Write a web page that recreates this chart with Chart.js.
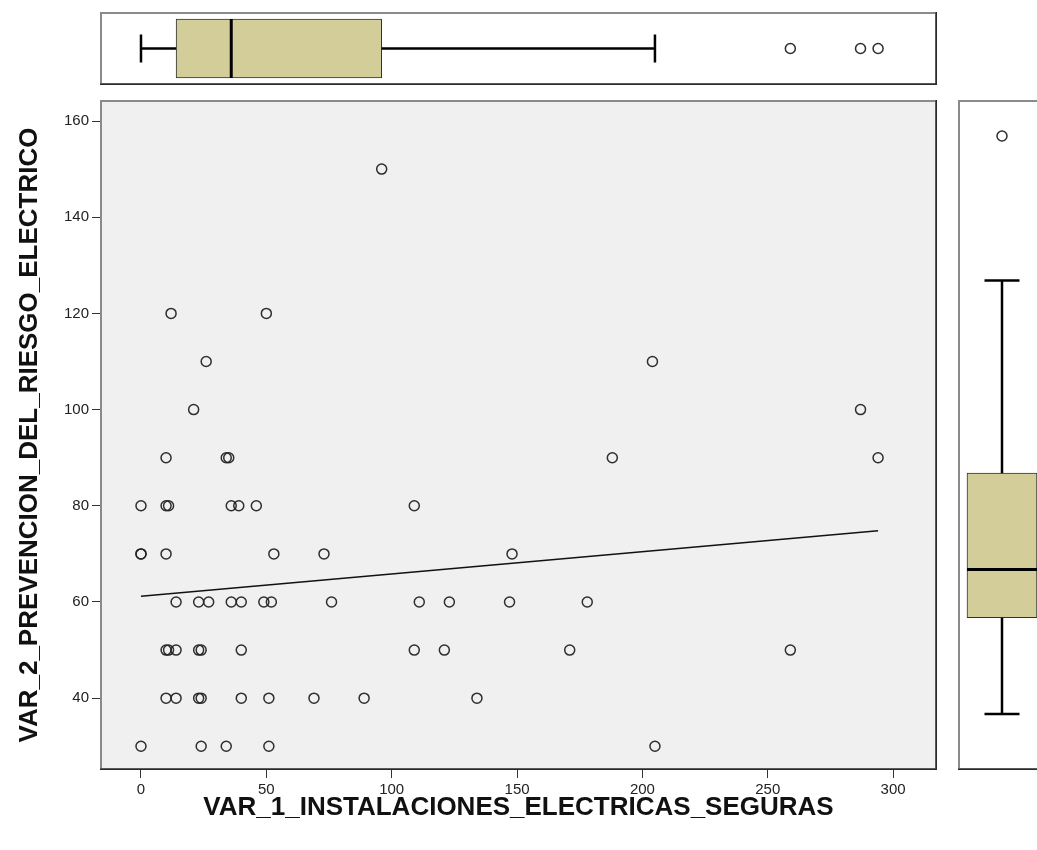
<!DOCTYPE html>
<html>
<head>
<meta charset="utf-8">
<script src="https://cdn.jsdelivr.net/npm/chart.js@4/dist/chart.umd.min.js"></script>
<style>
  html, body { margin: 0; padding: 0; background: #ffffff; width: 1037px; height: 850px; overflow: hidden; }
  canvas { position: absolute; display: block; }
</style>
</head>
<body>
<canvas id="main" width="1037" height="850" style="left:0;top:0"></canvas>
<canvas id="topBox" width="837" height="73" style="left:100px;top:12px"></canvas>
<canvas id="sideBox" width="88" height="670" style="left:958px;top:100px"></canvas>
<script>
// Paired observations: VAR_1 (x) and VAR_2 (y), one entry per case
const instalaciones = [
  96,
  12, 50,
  26, 204,
  21, 287,
  10, 34, 35, 188, 294,
  0, 10, 11, 36, 39, 46, 109,
  0, 0, 10, 53, 73, 148,
  14, 23, 27, 36, 40, 49, 52, 76, 111, 123, 147, 178,
  10, 11, 14, 23, 24, 40, 109, 121, 171, 259,
  10, 14, 23, 24, 40, 51, 69, 89, 134,
  0, 24, 34, 51, 205
];
const prevencion = [
  150,
  120, 120,
  110, 110,
  100, 100,
  90, 90, 90, 90, 90,
  80, 80, 80, 80, 80, 80, 80,
  70, 70, 70, 70, 70, 70,
  60, 60, 60, 60, 60, 60, 60, 60, 60, 60, 60, 60,
  50, 50, 50, 50, 50, 50, 50, 50, 50, 50,
  40, 40, 40, 40, 40, 40, 40, 40, 40,
  30, 30, 30, 30, 30
];

// Linear fit of VAR_2 on VAR_1
const fitIntercept = 61.2;
const fitSlope = 0.0463;

// Box plot summaries: [lower whisker, Q1, median, Q3, upper whisker]
const var1Box = [0, 14, 36, 96, 205];
const var1Outliers = [259, 287, 294];
const var2Box = [30, 50, 60, 80, 120];
const var2Outliers = [150];

// Axis ticks
const xTicks = [0, 50, 100, 150, 200, 250, 300];
const yTicks = [40, 60, 80, 100, 120, 140, 160];

// Visible ranges
const xRange = [-16.35, 317.5];
const yRange = [25.07, 164.37];
const sideRange = [18.37, 157.47];

const FONT = '"Liberation Sans", Arial, sans-serif';
const BOX_FILL = '#D3CE99';
const MARK = 'rgba(35,35,35,0.95)';

// Panel background and frame
const framePlugin = {
  id: 'frame',
  beforeDraw(chart, args, opts) {
    const {ctx, chartArea: a} = chart;
    ctx.save();
    ctx.fillStyle = opts.fill;
    ctx.fillRect(a.left, a.top, a.right - a.left, a.bottom - a.top);
    ctx.restore();
  },
  afterDraw(chart) {
    const {ctx, chartArea: a} = chart;
    ctx.save();
    ctx.strokeStyle = '#8a8a8a';
    ctx.lineWidth = 2;
    ctx.strokeRect(a.left + 1, a.top + 1, a.right - a.left - 2, a.bottom - a.top - 2);
    ctx.strokeStyle = '#2a2a2a';
    ctx.lineWidth = 1.5;
    ctx.beginPath();
    ctx.moveTo(a.right - 0.75, a.top);
    ctx.lineTo(a.right - 0.75, a.bottom - 0.75);
    ctx.lineTo(a.left, a.bottom - 0.75);
    ctx.stroke();
    ctx.restore();
  }
};

const points = instalaciones.map((x, i) => ({x, y: prevencion[i]}));
const xMin = Math.min(...instalaciones);
const xMax = Math.max(...instalaciones);
const fitLine = [xMin, xMax].map(x => ({x, y: fitIntercept + fitSlope * x}));

const fixedTicks = (values) => (scale) => { scale.ticks = values.map(v => ({value: v})); };

new Chart(document.getElementById('main'), {
  type: 'scatter',
  data: {
    datasets: [
      {
        data: points,
        pointStyle: 'circle',
        pointRadius: 5,
        pointHoverRadius: 5,
        pointBorderWidth: 1.5,
        pointBorderColor: MARK,
        pointBackgroundColor: 'rgba(0,0,0,0)',
        order: 1
      },
      {
        type: 'line',
        data: fitLine,
        borderColor: '#111111',
        borderWidth: 1.6,
        pointRadius: 0,
        fill: false,
        order: 2
      }
    ]
  },
  options: {
    responsive: false,
    animation: false,
    events: [],
    layout: {autoPadding: false, padding: {top: 100, right: 100, left: 0, bottom: 0}},
    plugins: {
      legend: {display: false},
      tooltip: {enabled: false},
      frame: {fill: '#F0F0F0'}
    },
    scales: {
      x: {
        type: 'linear',
        min: xRange[0],
        max: xRange[1],
        afterBuildTicks: fixedTicks(xTicks),
        afterFit: (s) => { s.height = 80; },
        border: {display: false},
        grid: {drawOnChartArea: false, drawTicks: true, tickLength: 8, tickColor: '#333333', tickWidth: 1},
        ticks: {color: '#222222', font: {family: FONT, size: 15}, padding: 3, maxRotation: 0},
        title: {
          display: true,
          text: 'VAR_1_INSTALACIONES_ELECTRICAS_SEGURAS',
          color: '#111111',
          font: {family: FONT, size: 26, weight: 'bold'},
          padding: {top: 0, bottom: 26.4}
        }
      },
      y: {
        type: 'linear',
        min: yRange[0],
        max: yRange[1],
        afterBuildTicks: fixedTicks(yTicks),
        afterFit: (s) => { s.width = 100; },
        border: {display: false},
        grid: {drawOnChartArea: false, drawTicks: true, tickLength: 8, tickColor: '#333333', tickWidth: 1},
        ticks: {color: '#222222', font: {family: FONT, size: 15}, padding: 3},
        title: {
          display: true,
          text: 'VAR_2_PREVENCION_DEL_RIESGO_ELECTRICO',
          color: '#111111',
          font: {family: FONT, size: 26, weight: 'bold'},
          padding: {top: 14.4, bottom: 0}
        }
      }
    }
  },
  plugins: [framePlugin]
});

// Horizontal box plot of VAR_1
const v1 = 'VAR_1';
new Chart(document.getElementById('topBox'), {
  type: 'bar',
  data: {
    labels: [v1],
    datasets: [
      {
        data: [[var1Box[1], var1Box[3]]],
        backgroundColor: BOX_FILL,
        borderColor: '#333333',
        borderWidth: 1,
        borderSkipped: false,
        barThickness: 59,
        order: 4
      },
      {
        type: 'line',
        data: [{x: var1Box[0], y: v1}, {x: var1Box[1], y: v1}],
        borderColor: '#000000', borderWidth: 2.5, pointRadius: 0, order: 3
      },
      {
        type: 'line',
        data: [{x: var1Box[3], y: v1}, {x: var1Box[4], y: v1}],
        borderColor: '#000000', borderWidth: 2.5, pointRadius: 0, order: 3
      },
      {
        type: 'line',
        showLine: false,
        data: [{x: var1Box[0], y: v1}, {x: var1Box[4], y: v1}],
        pointStyle: 'line', pointRotation: 90, pointRadius: 14,
        pointBorderWidth: 2.5, pointBorderColor: '#000000', order: 2
      },
      {
        type: 'line',
        showLine: false,
        data: [{x: var1Box[2], y: v1}],
        pointStyle: 'line', pointRotation: 90, pointRadius: 29.5,
        pointBorderWidth: 3, pointBorderColor: '#000000', order: 1
      },
      {
        type: 'line',
        showLine: false,
        data: var1Outliers.map(x => ({x, y: v1})),
        pointStyle: 'circle', pointRadius: 5,
        pointBorderWidth: 1.5, pointBorderColor: MARK, pointBackgroundColor: 'rgba(0,0,0,0)', order: 1
      }
    ]
  },
  options: {
    indexAxis: 'y',
    responsive: false,
    animation: false,
    events: [],
    layout: {autoPadding: false, padding: 0},
    plugins: {legend: {display: false}, tooltip: {enabled: false}, frame: {fill: '#FFFFFF'}},
    scales: {
      x: {type: 'linear', min: xRange[0], max: xRange[1], display: false},
      y: {type: 'category', display: false}
    }
  },
  plugins: [framePlugin]
});

// Vertical box plot of VAR_2
const v2 = 'VAR_2';
new Chart(document.getElementById('sideBox'), {
  type: 'bar',
  data: {
    labels: [v2],
    datasets: [
      {
        data: [[var2Box[1], var2Box[3]]],
        backgroundColor: BOX_FILL,
        borderColor: '#333333',
        borderWidth: 1,
        borderSkipped: false,
        barThickness: 70,
        order: 4
      },
      {
        type: 'line',
        data: [{x: v2, y: var2Box[0]}, {x: v2, y: var2Box[1]}],
        borderColor: '#000000', borderWidth: 2.5, pointRadius: 0, order: 3
      },
      {
        type: 'line',
        data: [{x: v2, y: var2Box[3]}, {x: v2, y: var2Box[4]}],
        borderColor: '#000000', borderWidth: 2.5, pointRadius: 0, order: 3
      },
      {
        type: 'line',
        showLine: false,
        data: [{x: v2, y: var2Box[0]}, {x: v2, y: var2Box[4]}],
        pointStyle: 'line', pointRotation: 0, pointRadius: 17.5,
        pointBorderWidth: 2.5, pointBorderColor: '#000000', order: 2
      },
      {
        type: 'line',
        showLine: false,
        data: [{x: v2, y: var2Box[2]}],
        pointStyle: 'line', pointRotation: 0, pointRadius: 35,
        pointBorderWidth: 3, pointBorderColor: '#000000', order: 1
      },
      {
        type: 'line',
        showLine: false,
        data: var2Outliers.map(y => ({x: v2, y})),
        pointStyle: 'circle', pointRadius: 5,
        pointBorderWidth: 1.5, pointBorderColor: MARK, pointBackgroundColor: 'rgba(0,0,0,0)', order: 1
      }
    ]
  },
  options: {
    responsive: false,
    animation: false,
    events: [],
    layout: {autoPadding: false, padding: 0},
    plugins: {legend: {display: false}, tooltip: {enabled: false}, frame: {fill: '#FFFFFF'}},
    scales: {
      x: {type: 'category', display: false},
      y: {type: 'linear', min: sideRange[0], max: sideRange[1], display: false}
    }
  },
  plugins: [framePlugin]
});
</script>
</body>
</html>
